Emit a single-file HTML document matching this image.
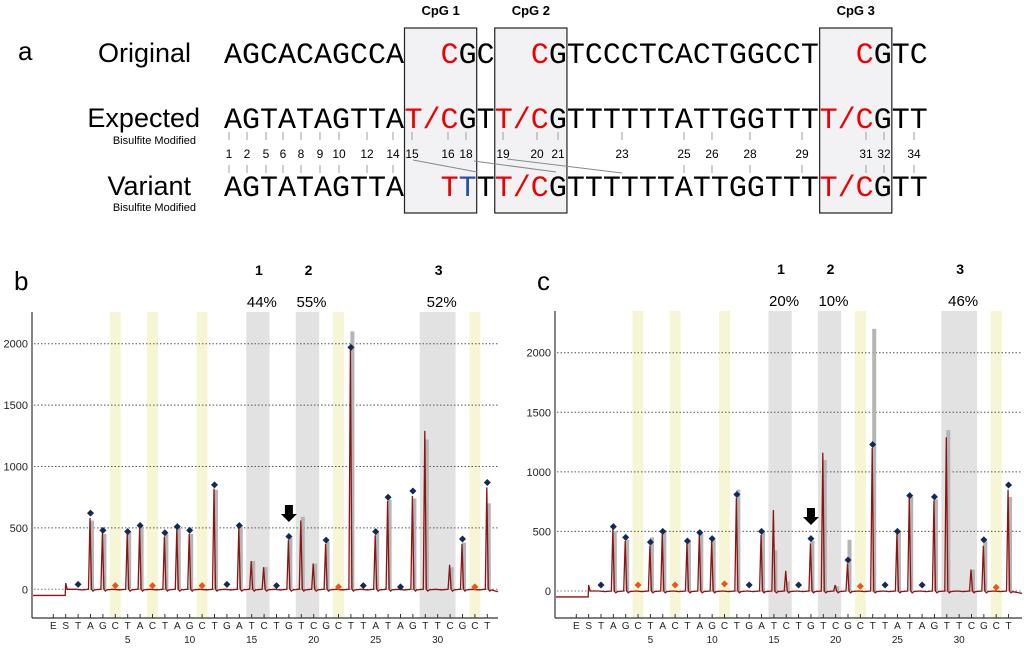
<!DOCTYPE html>
<html><head><meta charset="utf-8"><style>
body{margin:0;background:#fff;}
svg{display:block;font-family:"Liberation Sans",sans-serif;}
.mono{font-family:"Liberation Mono",monospace;font-size:30px;white-space:pre;}
</style></head><body>
<svg id="fig" width="1024" height="648" viewBox="0 0 1024 648">
<g id="panelA"></g>
<g id="panelB"></g>
<g id="panelC"></g>
</svg>
<script>
const NS="http://www.w3.org/2000/svg";
const dispensation=["E","S","T","A","G","C","T","A","C","T","A","G","C","T","G","A","T","C","T","G","T","C","G","C","T","T","A","T","A","G","T","T","C","G","C","T"];
const yTicks=[0,500,1000,1500,2000];
const xNumTicks=[5,10,15,20,25,30];
const yellowIdx=[4,7,11,22,33];
const grayRanges=[[15,16],[19,20],[29,31]];
const cpgLabels=["1","2","3"];
const pctB=["44%","55%","52%"];
const pctC=["20%","10%","46%"];
// values indexed 1..34 (index 0 unused)
const markerB=[null,40,620,480,30,470,520,30,460,510,480,30,850,40,520,null,null,30,430,null,null,400,20,1970,30,470,750,20,800,null,null,null,410,20,870];
const peakB=[null,0,580,460,0,450,500,0,430,490,450,0,820,0,500,230,180,0,400,560,210,370,0,1950,0,440,720,0,760,1290,0,200,370,0,830];
const greyB=[null,0,560,450,0,470,510,0,450,500,450,0,810,0,510,230,180,0,420,590,210,390,0,2100,0,470,730,0,740,1220,0,180,380,0,700];
const markerC=[null,50,540,450,50,410,500,50,420,490,440,60,810,50,500,null,null,50,440,null,null,260,40,1230,50,500,800,50,790,null,null,null,430,30,890];
const peakC=[null,0,520,420,0,380,480,0,400,470,420,0,780,0,470,680,170,0,400,1160,50,230,0,1200,0,480,780,0,760,1290,0,180,380,0,850];
const greyC=[null,0,500,430,0,450,510,0,420,480,430,0,850,0,500,340,80,0,420,1100,40,430,0,2200,0,500,790,0,770,1350,0,180,420,0,790];
const markerColorIdx=[4,7,11,22,33];

function el(parent,tag,attrs,name,text){
  const e=document.createElementNS(NS,tag);
  for(const k in attrs)e.setAttribute(k,attrs[k]);
  
  
  if(text!==undefined)e.textContent=text;
  parent.appendChild(e);return e;
}

function pyro(g,cfg,marker,peak,grey,pct,letter){
  const X=i=>cfg.x0+(i+1)*cfg.dx;
  const Y=v=>cfg.y0-(cfg.y0-cfg.y2000)*v/2000;
  yellowIdx.forEach(i=>el(g,'rect',{x:X(i)-5.5,y:cfg.top,width:11,height:cfg.axisY-cfg.top,fill:'#f6f6d6'},'dispensation-c-band'));
  grayRanges.forEach((r,k)=>{
    el(g,'rect',{x:X(r[0])-5.5,y:cfg.top,width:X(r[1])-X(r[0])+11,height:cfg.axisY-cfg.top,fill:'#e2e2e2'},'cpg-band-'+(k+1));
    const cx=(X(r[0])+X(r[1]))/2+1;
    el(g,'text',{x:cx,y:cfg.top-37,'font-size':14,'font-weight':'bold','text-anchor':'middle'},'cpg-label-'+(k+1),cpgLabels[k]);
    el(g,'text',{x:cx+3,y:cfg.top-5,'font-size':15,'text-anchor':'middle'},'cpg-percentage-'+(k+1),pct[k]);
  });
  yTicks.forEach(v=>{
    if(v>0)el(g,'line',{x1:cfg.axisX+2,x2:cfg.right,y1:Y(v),y2:Y(v),stroke:'#555','stroke-width':1,'stroke-dasharray':'1.5,2'},'gridline');
    else el(g,'line',{x1:cfg.axisX+2,x2:cfg.right,y1:Y(v),y2:Y(v),stroke:'#777','stroke-width':1,'stroke-dasharray':'1.5,2'},'gridline-zero');
    el(g,'text',{x:cfg.axisX-4,y:Y(v)+4,'font-size':11,'text-anchor':'end',fill:'#222'},'y-tick-label',String(v));
  });
  for(let i=1;i<=34;i++){
    if(grey[i]>0)el(g,'rect',{x:X(i)-0.5,y:Y(grey[i]),width:4,height:Y(0)-Y(grey[i]),fill:'#b5b5b5'},'histogram-bar');
  }
  let d='M'+(cfg.axisX+1)+','+Y(-50)+' L'+(X(0)-0.5)+','+Y(-50)+' L'+X(0)+','+Y(50)+' L'+(X(0)+1.5)+','+Y(0);
  for(let i=1;i<=34;i++){
    const x=X(i);
    d+=' L'+(x-2)+','+Y(0);
    if(peak[i]>0)d+=' L'+(x-0.5)+','+Y(peak[i])+' L'+(x+1)+','+Y(0)+' L'+(x+2.5)+','+Y(-15);
    d+=' L'+(x+4)+','+Y(-5);
  }
  d+=' L'+cfg.right+','+Y(-20);
  el(g,'path',{d:d,fill:'none',stroke:'#8b1414','stroke-width':1.3},'signal-trace');
  for(let i=1;i<=34;i++){
    if(marker[i]===null)continue;
    const x=X(i),y=Y(marker[i]);
    const c=markerColorIdx.includes(i)?'#e8561c':'#142a55';
    el(g,'path',{d:`M${x},${y-3.5} L${x+3.5},${y} L${x},${y+3.5} L${x-3.5},${y} Z`,fill:c},'peak-marker');
  }
  el(g,'line',{x1:cfg.axisX,x2:cfg.axisX,y1:cfg.top,y2:cfg.axisY,stroke:'#333','stroke-width':1.2},'y-axis');
  el(g,'line',{x1:cfg.axisX,x2:cfg.right,y1:cfg.axisY,y2:cfg.axisY,stroke:'#333','stroke-width':1.2},'x-axis');
  dispensation.forEach((l,k)=>{
    const x=X(k-1);
    el(g,'line',{x1:x,x2:x,y1:cfg.axisY-4,y2:cfg.axisY,stroke:'#333'},'x-tick');
    el(g,'text',{x:x,y:cfg.axisY+11,'font-size':10,'text-anchor':'middle',fill:'#222'},'dispensation-letter',l);
  });
  xNumTicks.forEach(n=>el(g,'text',{x:X(n),y:cfg.axisY+25,'font-size':10,'text-anchor':'middle',fill:'#222'},'x-number-label',String(n)));
  const ax=X(18);
  el(g,'path',{d:`M${ax-4},${cfg.arrowY} h8 v9 h4 l-8,8 l-8,-8 h4 z`,fill:'#000'},'arrow-indicator');
  el(g,'text',{x:cfg.letterX,y:290,'font-size':26},'panel-letter',letter);
}

pyro(document.getElementById('panelB'),{x0:53.3,dx:12.4,y0:589.3,y2000:343.7,top:312,axisY:618,axisX:32,right:498,arrowY:505,letterX:14},markerB,peakB,greyB,pctB,'b');
pyro(document.getElementById('panelC'),{x0:576.3,dx:12.35,y0:591,y2000:352.7,top:311,axisY:618,axisX:555,right:1022,arrowY:508,letterX:537},markerC,peakC,greyC,pctC,'c');

const A=document.getElementById('panelA');
const colW=18.05,sx=224;
el(A,'text',{x:18,y:60,'font-size':26},'panel-letter','a');
[[10,14,'CpG 1'],[15,19,'CpG 2'],[33,37,'CpG 3']].forEach((b,k)=>{
  el(A,'rect',{x:sx+b[0]*colW,y:28,width:(b[1]-b[0])*colW,height:185,fill:'#f2f2f4',stroke:'#222','stroke-width':1.2},'cpg-box-'+(k+1));
  el(A,'text',{x:sx+(b[0]+b[1])/2*colW,y:15,'font-size':13,'font-weight':'bold','text-anchor':'middle'},'cpg-title-'+(k+1),b[2]);
});
el(A,'text',{x:191,y:62,'font-size':27,'text-anchor':'end'},'row-label-original','Original');
el(A,'text',{x:200,y:127,'font-size':27,'text-anchor':'end'},'row-label-expected','Expected');
el(A,'text',{x:196,y:144,'font-size':11,'text-anchor':'end'},'bisulfite-note','Bisulfite Modified');
el(A,'text',{x:191,y:195,'font-size':27,'text-anchor':'end'},'row-label-variant','Variant');
el(A,'text',{x:196,y:211,'font-size':11,'text-anchor':'end'},'bisulfite-note','Bisulfite Modified');
function seq(y,parts,name){
  let col=0;
  parts.forEach(p=>{
    const t=el(A,'text',{x:sx+col*colW,y:y,'class':'mono',fill:p[1]},name);
    t.textContent=p[0];
    col+=p[0].length;
  });
}
seq(63,[["AGCACAGCCA","#000"],["  ","#000"],["C","#e00"],["GC","#000"],["  ","#000"],["C","#e00"],["GTCCCTCACTGGCCT","#000"],["  ","#000"],["C","#e00"],["GTC","#000"]],'original-sequence');
seq(128,[["AGTATAGTTA","#000"],["T/C","#e00"],["GT","#000"],["T/C","#e00"],["GTTTTTTATTGGTTT","#000"],["T/C","#e00"],["GTT","#000"]],'expected-sequence');
seq(196,[["AGTATAGTTA","#000"],["  ","#000"],["T","#e00"],["T","#2b4fb0"],["T","#000"],["T/C","#e00"],["GTTTTTTATTGGTTT","#000"],["T/C","#e00"],["GTT","#000"]],'variant-sequence');
const nums=[[1,229],[2,247],[5,266],[6,283],[8,301],[9,320],[10,339],[12,367],[14,393],[15,412],[16,448],[18,466],[19,503],[20,537],[21,558],[23,622],[25,684],[26,712],[28,750],[29,802],[31,866],[32,884],[34,914]];
nums.forEach(n=>{
  el(A,'text',{x:n[1],y:158,'font-size':12,'text-anchor':'middle'},'position-number',String(n[0]));
  el(A,'line',{x1:n[1],x2:n[1],y1:132,y2:140,stroke:'#888','stroke-width':0.8},'position-tick');
  if(![15,16,18,19,20,21,23].includes(n[0]))el(A,'line',{x1:n[1],x2:n[1],y1:165,y2:173,stroke:'#888','stroke-width':0.8},'position-tick');
});
[[413,160,477,172],[474,161,556,172],[507,159,622,173]].forEach(l=>el(A,'line',{x1:l[0],y1:l[1],x2:l[2],y2:l[3],stroke:'#888','stroke-width':1},'shift-line'));
</script>
</body></html>
